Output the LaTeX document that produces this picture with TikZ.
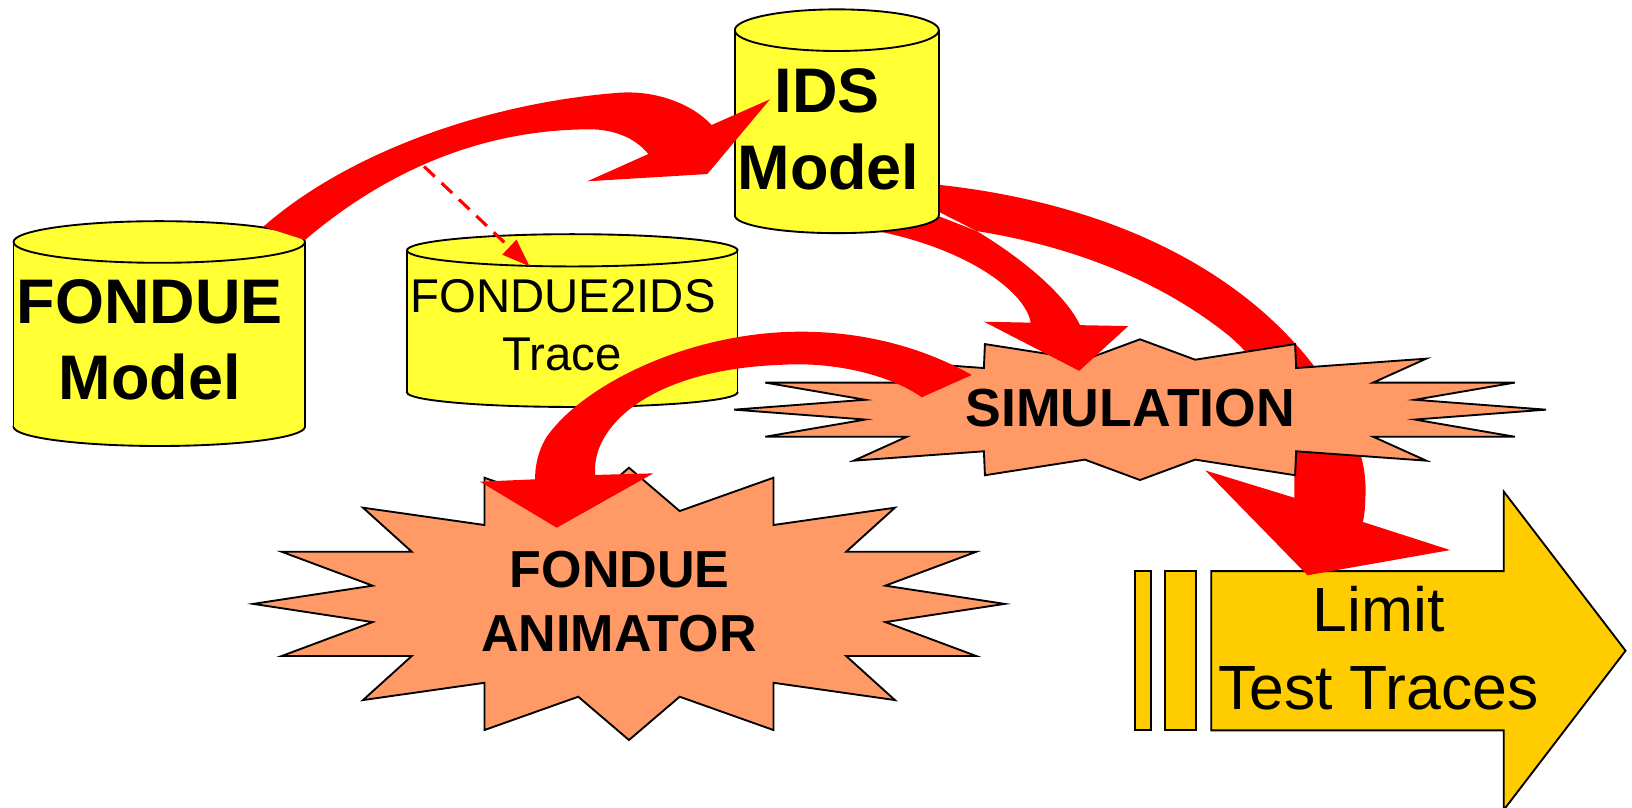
\documentclass[tikz,border=0pt]{standalone}
\usepackage{fontspec}
\setmainfont{Liberation Sans}
\usetikzlibrary{arrows.meta}
\definecolor{cylyellow}{HTML}{FFFF33}
\definecolor{burst}{HTML}{FF9966}
\definecolor{gold}{HTML}{FFCC00}
\definecolor{bred}{HTML}{FF0000}
\newcommand{\drawcyl}[6]{%
  % #1 left, #2 right, #3 top centre y, #4 bottom centre y, #5 top ry, #6 bottom ry
  \filldraw[cylfill] ({(#1+#2)/2},#4) ellipse[x radius={(#2-#1)/2},y radius=#6];
  \fill[cylyellow] (#1,#3) rectangle (#2,#4);
  \draw[outline] (#1,#3) -- (#1,#4) (#2,#3) -- (#2,#4);
  \filldraw[cylfill] ({(#1+#2)/2},#3) ellipse[x radius={(#2-#1)/2},y radius=#5];
}
\begin{document}
\begin{tikzpicture}[x=1pt,y=-1pt,
  outline/.style={draw=black,line width=1.8pt,line join=miter},
  cylfill/.style={outline,fill=cylyellow},
  burstfill/.style={outline,fill=burst},
  goldfill/.style={outline,fill=gold},
  bigarrow/.style={fill=bred},
  cyltxt/.style={font=\fontsize{60.5}{60.5}\selectfont\bfseries,anchor=base,inner sep=0pt},
  tracetxt/.style={font=\fontsize{45.5}{45.5}\selectfont,anchor=base,inner sep=0pt},
  simtxt/.style={font=\fontsize{51.5}{51.5}\selectfont\bfseries,anchor=base,inner sep=0pt},
  animtxt/.style={font=\fontsize{50}{50}\selectfont\bfseries,anchor=base,inner sep=0pt},
  limtxt/.style={font=\fontsize{60}{60}\selectfont,anchor=base,inner sep=0pt},
  dashconn/.style={draw=bred,line width=3pt,dash pattern=on 14pt off 9pt,-{Triangle[length=27pt,width=19pt]}}
]
\useasboundingbox (0,0) rectangle (1568,775.4);
\fill[white] (0,0) rectangle (1568,775.4);

% FONDUE2IDS Trace cylinder
\drawcyl{391}{708.6}{240.5}{377}{15.5}{14}
\node[tracetxt] (tr1) at (541,300) {FONDUE2IDS};
\node[tracetxt] (tr2) at (540,355.5) {Trace};

% Limit Test Traces block arrow
\filldraw[goldfill] (1090.6,548.7) rectangle (1105.5,701.7);
\filldraw[goldfill] (1119.7,548.7) rectangle (1149.4,701.7);
\filldraw[goldfill] (1163.7,548.7) -- (1444.7,548.7) -- (1444.7,472.2) -- (1561.8,625.2) -- (1444.7,778.2) -- (1444.7,701.7) -- (1163.7,701.7) -- cycle;
\node[limtxt] (lim1) at (1324.5,607) {Limit};
\node[limtxt] (lim2) at (1324.2,681.6) {Test Traces};

% arrow IDS -> Limit Test Traces
\fill[bigarrow] (895,172) -- (903.2,177.7) .. controls (1060,195) and (1190,255) .. (1265,355) .. controls (1300,405) and (1312,440) .. (1312,470) .. controls (1312,485) and (1311,495) .. (1309.4,501.5) -- (1393.3,528.5) -- (1256.2,552.7) -- (1158,452) -- (1243.7,478.3) -- (1243.7,445) .. controls (1243,400) and (1215,352) .. (1181.7,323.4) .. controls (1110,265) and (1020,235) .. (938.4,222) -- (895,200) -- cycle;

% SIMULATION burst
\filldraw[burstfill,shift={(1095.3,393.6)}] (-390,0) -- (-264,-9.5) -- (-360,-26) -- (-224,-26) -- (-275,-49) -- (-150,-40) -- (-149,-63) -- (-53,-48) -- (0,-67.6) -- (53,-48) -- (149,-63) -- (150,-40) -- (275,-49) -- (224,-26) -- (360,-26) -- (264,-9.5) -- (390,0) -- (264,9.5) -- (360,26) -- (224,26) -- (275,49) -- (150,40) -- (149,63) -- (53,48) -- (0,67.6) -- (-53,48) -- (-149,63) -- (-150,40) -- (-275,49) -- (-224,26) -- (-360,26) -- (-264,9.5) -- cycle;
\node[simtxt] (sim) at (1086,410) {SIMULATION};

% arrow IDS -> SIMULATION
\fill[bigarrow] (845.5,214) -- (845.5,222.6) .. controls (930,240) and (985,280) .. (990.3,310) -- (945.4,309.1) -- (1036.9,356.3) -- (1084,313.3) -- (1037.6,312.4) .. controls (1025,285) and (985,250) .. (938.4,222) -- (895,205) -- cycle;

% IDS Model cylinder
\drawcyl{706}{902}{29}{207}{20}{17}
\node[cyltxt] (ids1) at (795,108) {IDS};
\node[cyltxt] (ids2) at (796,182) {Model};

% FONDUE Model cylinder
\drawcyl{13}{293}{232.5}{410}{20}{18.5}
\node[cyltxt] (fm1) at (144,311) {FONDUE};
\node[cyltxt] (fm2) at (144,384) {Model};

% arrow FONDUE -> IDS
\fill[bigarrow] (253,217.8) .. controls (330,150) and (460,100) .. (592.4,89.3) .. controls (630,86) and (665,100) .. (683.7,120.1) -- (739.8,95.4) -- (679.6,167.2) -- (564.3,174.2) -- (622.9,148) .. controls (610,132) and (588,123) .. (560.4,124.3) .. controls (460,126) and (370,165) .. (293,230.6) -- cycle;

% FONDUE ANIMATOR burst
\filldraw[burstfill,shift={(604.3,580.2)}] (-361,0) -- (-246.3,-17.5) -- (-333.7,-50.1) -- (-208.7,-50.1) -- (-255.5,-92.4) -- (-138.8,-75.8) -- (-138.8,-121.2) -- (-48.7,-89.2) -- (0,-130.8) -- (48.7,-89.2) -- (138.8,-121.2) -- (138.8,-75.8) -- (255.5,-92.4) -- (208.7,-50.1) -- (333.7,-50.1) -- (246.3,-17.5) -- (361,0) -- (246.3,17.5) -- (333.7,50.1) -- (208.7,50.1) -- (255.5,92.4) -- (138.8,75.8) -- (138.8,121.2) -- (48.7,89.2) -- (0,130.8) -- (-48.7,89.2) -- (-138.8,121.2) -- (-138.8,75.8) -- (-255.5,92.4) -- (-208.7,50.1) -- (-333.7,50.1) -- (-246.3,17.5) -- cycle;
\node[animtxt] (an1) at (595.5,564.6) {FONDUE};
\node[animtxt] (an2) at (594.6,626.1) {ANIMATOR};

% arrow SIMULATION -> FONDUE ANIMATOR
\fill[bigarrow] (933.6,360.3) .. controls (880,330) and (820,318) .. (765.4,318.7) .. controls (660,320) and (560,370) .. (525,420) .. controls (516,435) and (514,450) .. (514.1,460.5) -- (461.2,462.8) -- (534.9,507) -- (627.7,454.8) -- (571.8,456.3) -- (571.8,448.3) .. controls (574,405) and (630,355) .. (749.4,350.6) .. controls (800,347) and (855,360) .. (885.6,381.7) -- cycle;

% dashed trace link
\coordinate (dA) at (407.5,160);
\coordinate (dB) at (509,256);
\draw[dashconn] (dA) -- (dB);
\end{tikzpicture}
\end{document}
